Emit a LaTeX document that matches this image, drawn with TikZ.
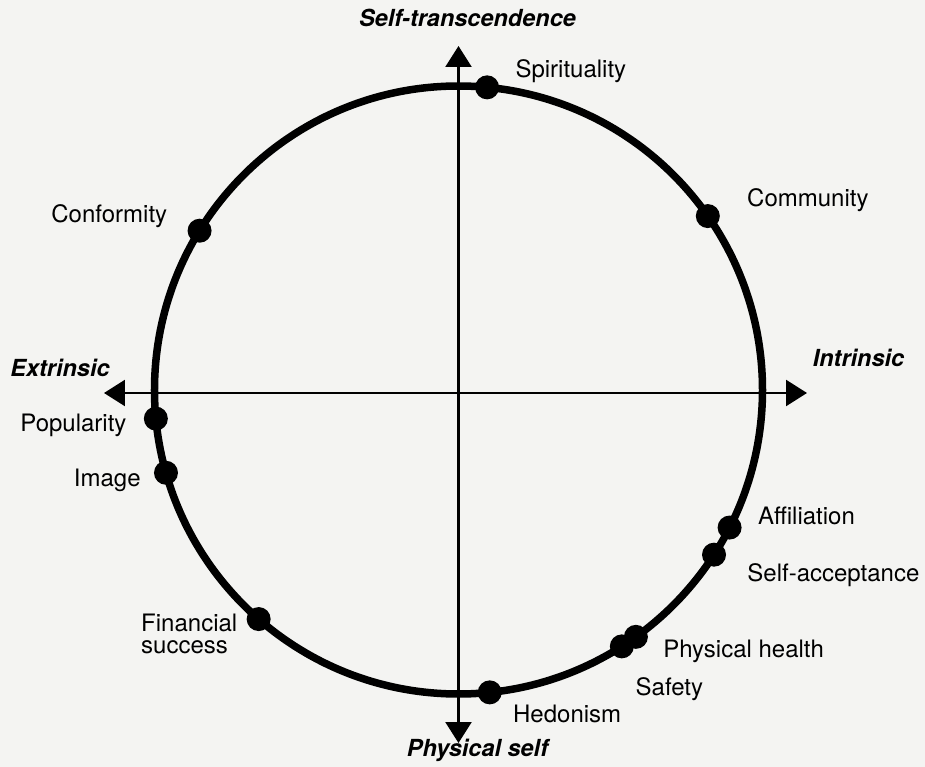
\documentclass[tikz,border=0pt]{standalone}
\usepackage{fontspec}
\setmainfont{TeX Gyre Heros}
\usepackage{xcolor}
\usepackage{tikz}
\usetikzlibrary{positioning,arrows.meta}

\definecolor{paper}{HTML}{F4F4F2}

\tikzset{
  value/.style={circle, fill=black, inner sep=0pt, minimum size=24pt},
  txt/.style={inner sep=0pt, font=\fontsize{24}{22}\selectfont},
  lbl/.style={txt, text height=17.3pt, text depth=5pt},
  axislbl/.style={inner sep=0pt, text height=17pt, text depth=4.9pt,
    font=\fontsize{23.5}{26}\selectfont\bfseries\itshape},
  ring/.style={line width=7.5pt},
  axis/.style={line width=2.4pt,
    {Triangle[length=21pt,width=26pt]}-{Triangle[length=21pt,width=26pt]}},
}

\begin{document}
\begin{tikzpicture}[x=1pt, y=1pt]
      % Background
      \fill[paper] (-458.5,-377) rectangle (466.5,390);
      \useasboundingbox (-458.5,-377) rectangle (466.5,390);

      % Circle and axes
      \coordinate (o) at (0,0);
      \coordinate (left_end) at (-354.5,-3);
      \coordinate (right_end) at (348.5,-3);
      \coordinate (top_end) at (0,344);
      \coordinate (bottom_end) at (0,-353);
      \draw[ring] (o) circle[radius=304];
      \draw[axis] (left_end) -- (right_end);
      \draw[axis] (bottom_end) -- (top_end);

      % Axis labels
      \node[axislbl, above=14pt of top_end, xshift=9pt] (up_label) {Self-transcendence};
      \node[axislbl, below=-4pt of bottom_end, xshift=19pt] (down_label) {Physical self};
      \node[axislbl, above=11pt of left_end, xshift=-44pt] (left_label) {Extrinsic};
      \node[axislbl, above=21pt of right_end, xshift=51.5pt] (right_label) {Intrinsic};

      % Values on the circle
      \node[value] (spirit) at (84.6:304) {};
      \node[value] (community) at (34.9:304) {};
      \node[value] (conform) at (148.4:304) {};
      \node[value] (popular) at (185.4:304) {};
      \node[value] (image) at (195.8:304) {};
      \node[value] (finance) at (228.9:304) {};
      \node[value] (hedon) at (275.9:304) {};
      \node[value] (safety) at (302.5:304) {};
      \node[value] (health) at (305.7:304) {};
      \node[value] (accept) at (327.2:304) {};
      \node[value] (affil) at (333.1:304) {};

      % Value labels
      \node[lbl, right=16pt of spirit, yshift=16pt] (spirit_label) {Spirituality};
      \node[lbl, right=27pt of community, yshift=16pt] (community_label) {Community};
      \node[lbl, left=20pt of conform, yshift=14pt] (conform_label) {Conformity};
      \node[lbl, left=17pt of popular, yshift=-7pt] (popular_label) {Popularity};
      \node[lbl, left=13pt of image, yshift=-8pt] (image_label) {Image};
      \node[txt, align=left, left=9pt of finance, yshift=-15pt] (finance_label) {Financial\\success};
      \node[lbl, right=11pt of hedon, yshift=-23.5pt] (hedon_label) {Hedonism};
      \node[lbl, below right=23pt and 5pt of safety] (safety_label) {Safety};
      \node[lbl, right=15pt of health, yshift=-14pt] (health_label) {Physical health};
      \node[lbl, right=21pt of accept, yshift=-21pt] (accept_label) {Self-acceptance};
      \node[lbl, right=16pt of affil, yshift=9pt] (affil_label) {Affiliation};
\end{tikzpicture}
\end{document}
